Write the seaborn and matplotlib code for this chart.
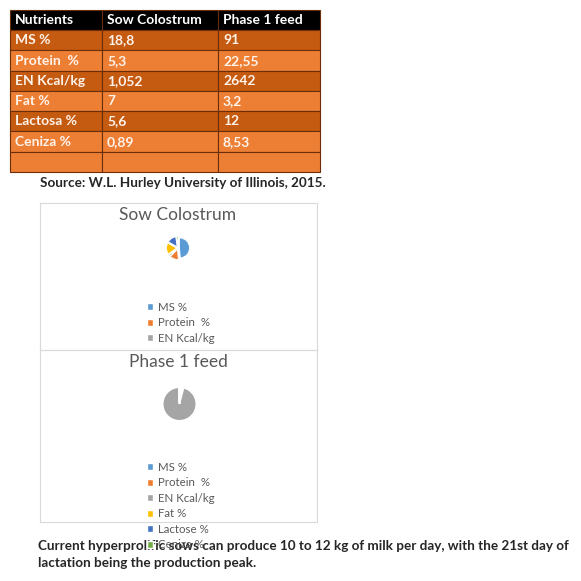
import matplotlib
matplotlib.use('Agg')
import matplotlib.pyplot as plt
import seaborn as sns
from matplotlib.patches import Patch

# table data
col_labels = ['Nutrients', 'Sow Colostrum', 'Phase 1 feed']
nutrients = ['MS %', 'Protein  %', 'EN Kcal/kg', 'Fat %', 'Lactosa %', 'Ceniza %', '']
colostrum_txt = ['18,8', '5,3', '1,052', '7', '5,6', '0,89', '']
phase1_txt = ['91', '22,55', '2642', '3,2', '12', '8,53', '']

# pie data
legend_labels = ['MS %', 'Protein  %', 'EN Kcal/kg', 'Fat %', 'Lactose %', 'Ceniza %']
colostrum_vals = [18.8, 5.3, 1.052, 7, 5.6, 0.89]
phase1_vals = [91, 22.55, 2642, 3.2, 12, 8.53]

sns.set_style('white')
plt.rcParams['font.family'] = ['Lato', 'DejaVu Sans']
office = sns.color_palette(['#5B9BD5', '#ED7D31', '#A5A5A5', '#FFC000', '#4472C4', '#70AD47'])

W = H = 581
def fx(x):
    return x / W
def fy(y):
    return 1 - y / H

fig = plt.figure(figsize=(5.81, 5.81), dpi=100)

# ---- table ----
ax_t = fig.add_axes([fx(10), fy(172), 310 / W, 162 / H])
ax_t.axis('off')
rows = [[n, c, p] for n, c, p in zip(nutrients, colostrum_txt, phase1_txt)]
dark, light = '#C55A11', '#ED7F35'
row_cols = [dark, light, dark, light, dark, light, light]
cell_colors = [[rc] * 3 for rc in row_cols]
col_w = [92, 116, 102]
tbl = ax_t.table(cellText=rows, colLabels=col_labels, cellColours=cell_colors,
                 colWidths=[w / 310 for w in col_w], bbox=[0, 0, 1, 1])
tbl.auto_set_font_size(False)
for (r, c), cell in tbl.get_celld().items():
    cell.set_edgecolor('#6B2E08')
    cell.set_linewidth(0.8)
    cell._loc = 'left'
    cell.PAD = 5 / col_w[c]
    txt = cell.get_text()
    txt.set_ha('left')
    txt.set_fontsize(10)
    txt.set_fontweight('bold')
    if r == 0:
        cell.set_facecolor('black')
        txt.set_color('white')
    else:
        txt.set_color('#FFF3EA')

fig.text(fx(40), fy(183), 'Source: W.L. Hurley University of Illinois, 2015.',
         fontsize=9.75, fontweight='bold', va='center', ha='left')

# ---- chart boxes ----
for top, bottom in [(203, 350), (350, 522)]:
    ax_b = fig.add_axes([fx(40), fy(bottom), 277 / W, (bottom - top) / H])
    ax_b.set_xticks([])
    ax_b.set_yticks([])
    ax_b.patch.set_alpha(0)
    for s in ax_b.spines.values():
        s.set_color('#D9D9D9')
        s.set_linewidth(0.8)

fig.text(fx(178), fy(215), 'Sow Colostrum', ha='center', va='center',
         color='#595959', fontsize=12.5)
fig.text(fx(178), fy(362), 'Phase 1 feed', ha='center', va='center',
         color='#595959', fontsize=12.5)

# Sow colostrum pie (exploded)
ax_p1 = fig.add_axes([fx(178 - 15), fy(248 + 15), 30 / W, 30 / H])
ax_p1.pie(colostrum_vals, colors=office, startangle=90, counterclock=False,
          explode=[0.15] * 6, wedgeprops=dict(linewidth=0.6, edgecolor='white'))
ax_p1.set_xlim(-1.5, 1.5)
ax_p1.set_ylim(-1.5, 1.5)
ax_p1.set_aspect('equal')

# Phase 1 pie (small slices wash out in the original)
p2_colors = ['white', 'white', office[2], 'white', 'white', 'white']
ax_p2 = fig.add_axes([fx(179.5 - 20), fy(404 + 20), 40 / W, 40 / H])
ax_p2.pie(phase1_vals, colors=p2_colors, startangle=90, counterclock=False)
ax_p2.set_xlim(-1.2, 1.2)
ax_p2.set_ylim(-1.2, 1.2)
ax_p2.set_aspect('equal')

handles = [Patch(facecolor=c) for c in office]
leg_kw = dict(loc='upper left', frameon=False, fontsize=8.3, handlelength=0.55,
              handleheight=0.55, handletextpad=0.4, labelspacing=0.39,
              borderpad=0, borderaxespad=0, labelcolor='#595959')
fig.legend(handles[:3], legend_labels[:3], bbox_to_anchor=(fx(147), fy(302)), **leg_kw)
fig.legend(handles, legend_labels, bbox_to_anchor=(fx(147), fy(462)), **leg_kw)

# caption
fig.text(fx(38), fy(546),
         'Current hyperprolific sows can produce 10 to 12 kg of milk per day, with the 21st day of',
         fontsize=9.7, fontweight='bold', va='center', ha='left')
fig.text(fx(38), fy(563), 'lactation being the production peak.',
         fontsize=9.7, fontweight='bold', va='center', ha='left')

fig.savefig('out.png', dpi=100)
